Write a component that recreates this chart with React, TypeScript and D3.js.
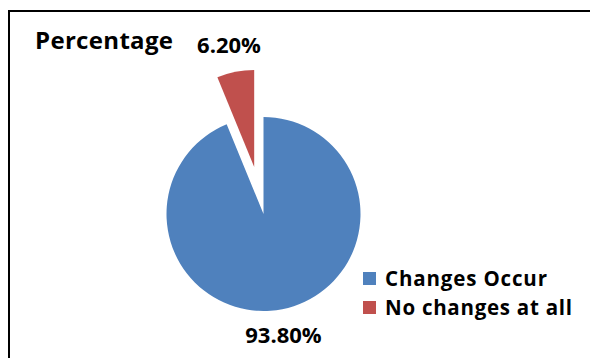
import React from "react";
import * as d3 from "d3";

const categories = ["Changes Occur", "No changes at all"];
const values = [93.8, 6.2];
const labels = ["93.80%", "6.20%"];
const colors = ["#4F81BD", "#C0504D"];
const title = "Percentage";

export default function App() {
  const W = 590, H = 358;
  const cx = 263.5, cy = 214, r = 97;
  const explode = [0, 48];
  const legendWidths = [162, 187];
  const pie = d3.pie<number>().sort(null).startAngle(0).endAngle(2 * Math.PI);
  const arcs = pie(values);
  const arc = d3.arc<d3.PieArcDatum<number>>().innerRadius(0).outerRadius(r);
  const font = "'Open Sans', sans-serif";
  return (
    <svg width={W} height={H} style={{ position: "absolute", left: 0, top: 0, background: "#fff" }}>
      <rect x={9} y={11} width={W + 20} height={H + 20} fill="#fff" stroke="#000" strokeWidth={2} />
      <text x={35} y={48.5} fontFamily={font} fontWeight={700} fontSize={24} fill="#000" textLength={138} lengthAdjust="spacing">{title}</text>
      {arcs.map((a, i) => {
        const mid = (a.startAngle + a.endAngle) / 2;
        const dx = Math.sin(mid) * explode[i];
        const dy = -Math.cos(mid) * explode[i];
        return (
          <path key={i} d={arc(a) || ""} transform={`translate(${cx + dx},${cy + dy})`} fill={colors[i]} />
        );
      })}
      <text x={229} y={52.5} textAnchor="middle" fontFamily={font} fontWeight={700} fontSize={22} fill="#000">{labels[1]}</text>
      <text x={283.5} y={343.3} textAnchor="middle" fontFamily={font} fontWeight={700} fontSize={22} fill="#000">{labels[0]}</text>
      {categories.map((c, i) => (
        <g key={c} transform={`translate(363,${272 + i * 29})`}>
          <rect x={0} y={0} width={13} height={13} fill={colors[i]} />
          <text x={22} y={14.3} fontFamily={font} fontWeight={700} fontSize={20.5} fill="#000" textLength={legendWidths[i]} lengthAdjust="spacing">{c}</text>
        </g>
      ))}
    </svg>
  );
}
